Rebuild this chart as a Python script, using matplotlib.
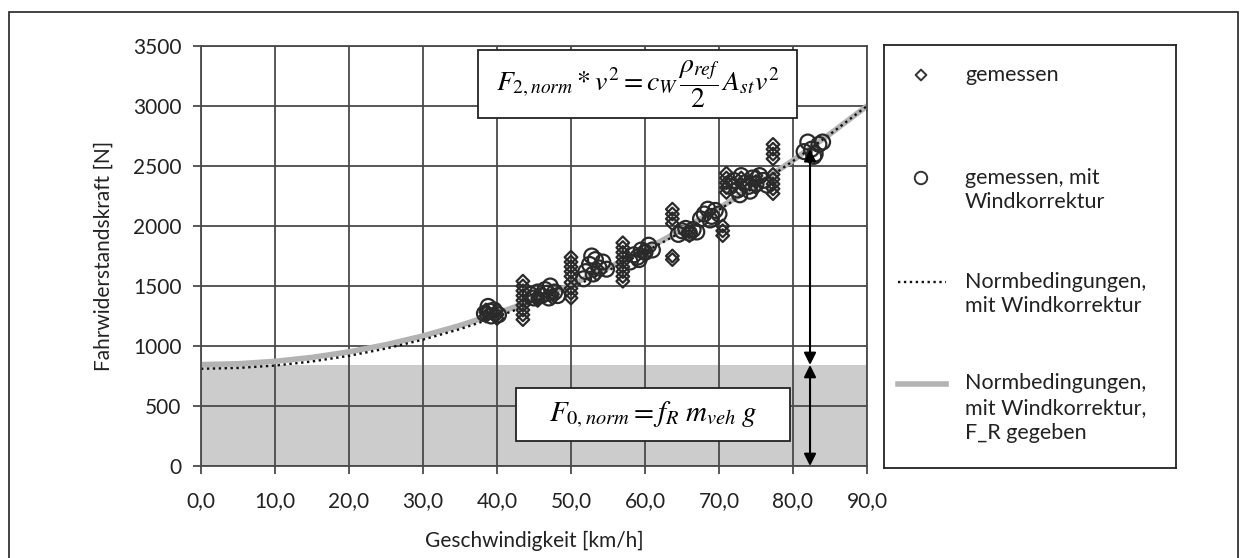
import numpy as np
import matplotlib
matplotlib.use("Agg")
import matplotlib.pyplot as plt
from matplotlib.patches import Rectangle

plt.rcParams["font.family"] = ["Lato", "DejaVu Sans"]
plt.rcParams["mathtext.fontset"] = "stix"

# curves, every 5 km/h
speed = [0, 5, 10, 15, 20, 25, 30, 35, 40, 45, 50, 55, 60, 65, 70, 75, 80, 85, 90]
norm_given = [845, 852, 872, 905, 951, 1011, 1084, 1171, 1271, 1384, 1510, 1650,
              1803, 1969, 2148, 2341, 2547, 2767, 3000]
norm_wind = [810, 817, 837, 871, 918, 979, 1053, 1141, 1243, 1358, 1486, 1628,
             1783, 1952, 2135, 2331, 2541, 2764, 3000]

f0_norm = 842
arrow_x = 82.3
arrow_top = 2640

# gemessen (diamonds)
meas_x = [38.5, 38.5, 38.5, 40.0, 40.0, 40.0,
          43.5, 43.5, 43.5, 43.5, 43.5, 43.5, 43.5, 43.5, 43.5,
          45.5, 45.5, 45.5, 47.5, 47.5,
          50.0, 50.0, 50.0, 50.0, 50.0, 50.0, 50.0, 50.0, 50.0,
          53.5, 53.5,
          57.0, 57.0, 57.0, 57.0, 57.0, 57.0, 57.0, 57.0, 57.0,
          60.0, 60.0,
          63.7, 63.7, 63.7, 63.7, 63.7, 63.7,
          66.0, 66.0,
          70.5, 70.5, 70.5,
          71.0, 71.0, 71.0, 71.0, 71.0,
          73.0, 73.0, 73.0, 75.0, 75.0, 75.0,
          77.3, 77.3, 77.3, 77.3, 77.3, 77.3, 77.3, 77.3, 77.3]
meas_y = [1250, 1280, 1300, 1230, 1260, 1300,
          1220, 1260, 1300, 1340, 1380, 1420, 1460, 1500, 1540,
          1380, 1400, 1420, 1400, 1430,
          1400, 1440, 1480, 1530, 1580, 1620, 1660, 1700, 1740,
          1600, 1650,
          1540, 1580, 1620, 1660, 1700, 1740, 1780, 1820, 1860,
          1760, 1800,
          1720, 1750, 2020, 2060, 2100, 2140,
          1920, 1950,
          1920, 1960, 2000,
          2280, 2320, 2360, 2400, 2440,
          2300, 2350, 2400, 2320, 2370, 2420,
          2270, 2310, 2350, 2390, 2430, 2560, 2600, 2640, 2680]

# gemessen, mit Windkorrektur (circles)
wind_x = [38.3, 38.8, 39.2, 39.6, 40.2, 39.0,
          44.5, 45.0, 45.5, 46.0, 46.5, 47.0, 47.2, 47.8, 48.2, 46.8,
          51.7, 52.0, 52.5, 53.0, 53.3, 53.8, 54.3, 54.8, 52.8,
          58.0, 58.5, 59.0, 59.5, 60.0, 60.5, 61.0, 59.2,
          64.5, 65.0, 65.5, 66.0, 66.5, 67.0,
          67.5, 68.0, 68.5, 69.0, 69.5, 70.0, 68.8,
          71.5, 72.0, 72.5, 73.0, 73.5, 74.0, 74.5, 75.0, 75.5, 76.0, 76.5, 72.8, 74.2,
          81.5, 82.0, 82.5, 83.0, 83.5, 84.0, 82.8]
wind_y = [1270, 1330, 1250, 1300, 1260, 1290,
          1430, 1400, 1450, 1420, 1470, 1400, 1500, 1450, 1420, 1440,
          1560, 1620, 1680, 1600, 1720, 1650, 1700, 1640, 1750,
          1700, 1760, 1740, 1800, 1780, 1840, 1800, 1720,
          1930, 1960, 1980, 1940, 1970, 1950,
          2060, 2100, 2140, 2080, 2130, 2100, 2050,
          2330, 2380, 2300, 2420, 2360, 2330, 2400, 2350, 2420, 2380, 2340, 2260, 2290,
          2620, 2700, 2640, 2600, 2680, 2700, 2580]

x_ticks = [0, 10, 20, 30, 40, 50, 60, 70, 80, 90]
y_ticks = [0, 500, 1000, 1500, 2000, 2500, 3000, 3500]

W, H = 1247, 558
fig = plt.figure(figsize=(W / 100, H / 100), dpi=100)
fig.patch.set_facecolor("white")

# outer frame
fig.patches.append(Rectangle((9 / W, -0.02), (1238 - 9) / W, (H - 12) / H + 0.02,
                             transform=fig.transFigure, fill=False,
                             edgecolor="#222222", linewidth=1.2))

ax = fig.add_axes([201 / W, (H - 466) / H, (867 - 201) / W, (466 - 46) / H])
ax.set_xlim(0, 90)
ax.set_ylim(0, 3500)
ax.set_axisbelow(True)
ax.grid(True, color="#4a4a4a", linewidth=1.3)
for s in ax.spines.values():
    s.set_color("#4a4a4a")
    s.set_linewidth(1.3)
ax.set_xticks(x_ticks)
ax.set_xticklabels(["%d,0" % v for v in x_ticks])
ax.set_yticks(y_ticks)
ax.tick_params(axis="both", labelsize=15, color="#4a4a4a", width=1.3, length=6,
               labelcolor="#222222")
ax.tick_params(axis="x", pad=12)
ax.tick_params(axis="y", pad=8)

ax.fill_between([0, 90], [0, 0], [f0_norm, f0_norm], color="#cccccc", zorder=0.3,
                linewidth=0)

ax.plot(speed, norm_given, color="#b3b3b3", linewidth=4, zorder=2)
ax.plot(speed, norm_wind, color="#111111", linewidth=1.7, linestyle=(0, (1, 1.5)), zorder=2.1)

ax.scatter(meas_x, meas_y, marker="D", s=42, facecolors="none", edgecolors="#2a2a2a",
           linewidths=1.6, zorder=3)
ax.scatter(wind_x, wind_y, marker="o", s=115, facecolors="none", edgecolors="#2a2a2a",
           linewidths=1.6, zorder=3)

# double arrows
arr = dict(arrowstyle="<|-|>", color="black", lw=1.5, mutation_scale=18, shrinkA=0, shrinkB=0)
ax.annotate("", xy=(arrow_x, arrow_top), xytext=(arrow_x, f0_norm), arrowprops=arr, zorder=4)
ax.annotate("", xy=(arrow_x, f0_norm), xytext=(arrow_x, 0), arrowprops=arr, zorder=4)

ax.set_xlabel("Geschwindigkeit [km/h]", fontsize=15, color="#222222", labelpad=14)
ax.set_ylabel("Fahrwiderstandskraft [N]", fontsize=15, color="#222222", labelpad=14)

# equation boxes
fig.patches.append(Rectangle((478 / W, 1 - 118 / H), (797 - 478) / W, 68 / H,
                             transform=fig.transFigure, facecolor="white",
                             edgecolor="#222222", linewidth=1.3, zorder=5))
fig.text(638 / W, 1 - 84 / H,
         r"$F_{2,norm} * v^2 = c_W\,\dfrac{\rho_{ref}}{2}\,A_{st}v^2$",
         fontsize=20, ha="center", va="center", zorder=6)
fig.patches.append(Rectangle((516 / W, 1 - 441 / H), (790 - 516) / W, 53 / H,
                             transform=fig.transFigure, facecolor="white",
                             edgecolor="#222222", linewidth=1.3, zorder=5))
fig.text(653 / W, 1 - 415 / H, r"$F_{0,norm} = f_R\;m_{veh}\;g$",
         fontsize=21, ha="center", va="center", zorder=6)

# legend panel
lax = fig.add_axes([884 / W, (H - 468) / H, (1176 - 884) / W, (468 - 45) / H])
lax.set_xlim(0, 292)
lax.set_ylim(423, 0)
lax.set_xticks([])
lax.set_yticks([])
for s in lax.spines.values():
    s.set_color("#222222")
    s.set_linewidth(1.3)

tx = 81
lax.scatter([37], [30], marker="D", s=30, facecolors="none", edgecolors="#333333", linewidths=1.4)
lax.text(tx, 30, "gemessen", fontsize=15.5, va="center", color="#222222")
lax.scatter([37], [133], marker="o", s=80, facecolors="none", edgecolors="#333333", linewidths=1.4)
lax.text(tx, 133 + 12, "gemessen, mit\nWindkorrektur", fontsize=15.5, va="center",
         linespacing=1.3, color="#222222")
lax.plot([14, 62], [237, 237], color="#111111", linewidth=1.7, linestyle=(0, (1, 1.5)))
lax.text(tx, 237 + 12, "Normbedingungen,\nmit Windkorrektur", fontsize=15.5, va="center",
         linespacing=1.3, color="#222222")
lax.plot([14, 62], [339, 339], color="#b3b3b3", linewidth=4)
lax.text(tx, 339 + 24, "Normbedingungen,\nmit Windkorrektur,\nF_R gegeben", fontsize=15.5,
         va="center", linespacing=1.3, color="#222222")

fig.savefig("out.png", dpi=100)
